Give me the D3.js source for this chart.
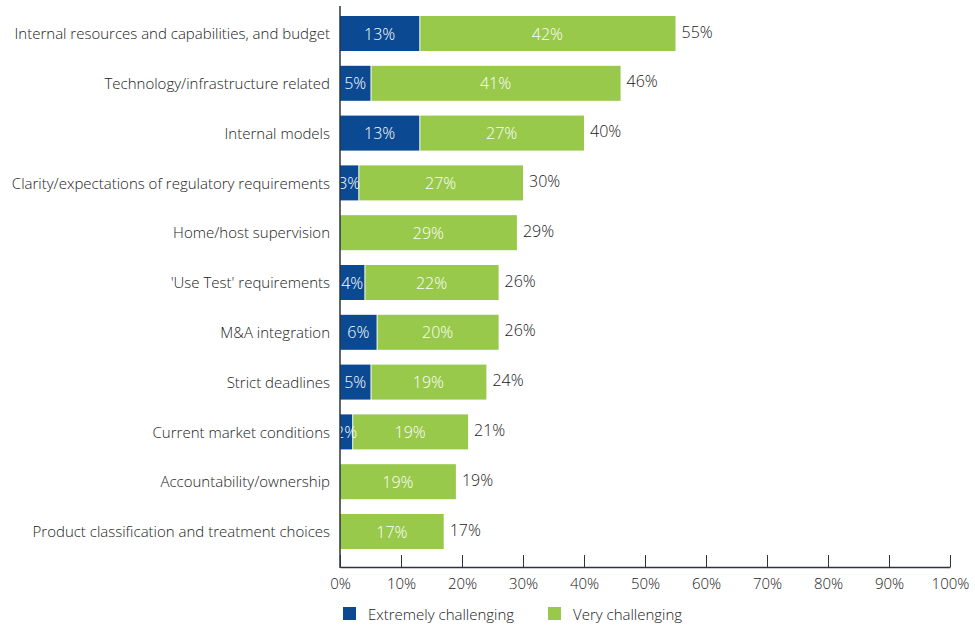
<!DOCTYPE html>
<html>
<head>
<meta charset="utf-8">
<script src="https://cdn.jsdelivr.net/npm/d3@7"></script>
<style>
  html, body { margin: 0; padding: 0; background: #fff; }
  svg { display: block; font-family: "Open Sans", "Noto Sans", sans-serif; font-weight: 300; }
</style>
</head>
<body>
<svg id="chart" width="975" height="625"></svg>
<script>
// Challenges, share of respondents
const categories = [
  "Internal resources and capabilities, and budget",
  "Technology/infrastructure related",
  "Internal models",
  "Clarity/expectations of regulatory requirements",
  "Home/host supervision",
  "'Use Test' requirements",
  "M&A integration",
  "Strict deadlines",
  "Current market conditions",
  "Accountability/ownership",
  "Product classification and treatment choices"
];
const extremely = [13, 5, 13, 3, 0, 4, 6, 5, 2, 0, 0];
const very      = [42, 41, 27, 27, 29, 22, 20, 19, 19, 19, 17];
const totals    = [55, 46, 40, 30, 29, 26, 26, 24, 21, 19, 17];
const seriesNames = ["Extremely challenging", "Very challenging"];
const xTicks = [0, 10, 20, 30, 40, 50, 60, 70, 80, 90, 100];

const colors = { extremely: "#0b4a92", very: "#98c94a" };

const svg = d3.select("#chart");
const left = 340, right = 950, axisY = 567;

const x = d3.scaleLinear().domain([0, 100]).range([left, right]);
const y = d3.scaleBand().domain(categories).range([8.6, 556.4])
  .paddingInner(0.297).paddingOuter(0.1485);

const rows = categories.map((c, i) => ({ c, e: extremely[i], v: very[i], t: totals[i] }));

// Bars
const g = svg.append("g");
g.selectAll("rect.ext").data(rows.filter(d => d.e > 0)).join("rect")
  .attr("x", x(0)).attr("y", d => y(d.c))
  .attr("width", d => x(d.e) - x(0)).attr("height", y.bandwidth())
  .attr("fill", colors.extremely);
g.selectAll("rect.very").data(rows).join("rect")
  .attr("x", d => x(d.e) + (d.e > 0 ? 1 : 0)).attr("y", d => y(d.c))
  .attr("width", d => x(d.e + d.v) - x(d.e) - (d.e > 0 ? 1 : 0)).attr("height", y.bandwidth())
  .attr("fill", colors.very);

// In-bar value labels
const fs = 15, fsNum = 16;
g.selectAll("text.ev").data(rows.filter(d => d.e > 0)).join("text")
  .attr("x", d => (x(0) + x(d.e)) / 2).attr("y", d => y(d.c) + y.bandwidth() / 2)
  .attr("dy", "0.38em").attr("text-anchor", "middle")
  .attr("fill", "#fff").attr("font-size", fsNum).text(d => d.e + "%");
g.selectAll("text.vv").data(rows).join("text")
  .attr("x", d => (x(d.e) + x(d.e + d.v)) / 2).attr("y", d => y(d.c) + y.bandwidth() / 2)
  .attr("dy", "0.38em").attr("text-anchor", "middle")
  .attr("fill", "#fff").attr("font-size", fsNum).text(d => d.v + "%");
// Totals
g.selectAll("text.tot").data(rows).join("text")
  .attr("x", d => x(d.t) + 6).attr("y", d => y(d.c) + y.bandwidth() / 2)
  .attr("dy", "0.26em").attr("fill", "#1a1a1a").attr("font-size", fsNum)
  .text(d => d.t + "%");

// Category labels
g.selectAll("text.cat").data(rows).join("text")
  .attr("x", left - 10).attr("y", d => y(d.c) + y.bandwidth() / 2)
  .attr("dy", "0.38em").attr("text-anchor", "end")
  .attr("fill", "#222").attr("font-size", fs).text(d => d.c);

// Axes
const axisColor = "#2b3440";
svg.append("line").attr("x1", left).attr("x2", left).attr("y1", 6).attr("y2", axisY + 1)
  .attr("stroke", axisColor).attr("stroke-width", 1.5);
const xAxis = svg.append("g").attr("transform", `translate(0,${axisY})`)
  .call(d3.axisBottom(x).tickValues(xTicks).tickSizeInner(-12).tickSizeOuter(0)
    .tickFormat(d => d + "%"));
xAxis.select(".domain").attr("stroke", axisColor).attr("stroke-width", 1.5);
xAxis.selectAll(".tick line").attr("stroke", axisColor);
xAxis.selectAll(".tick text").attr("y", 11).attr("dy", "0.71em")
  .attr("font-size", fs).attr("fill", "#222")
  .attr("font-family", "\"Open Sans\", sans-serif").attr("font-weight", 300);

// Legend
const legend = svg.append("g");
const legendItems = [
  { name: seriesNames[0], color: colors.extremely, x: 343 },
  { name: seriesNames[1], color: colors.very, x: 548 }
];
legendItems.forEach(it => {
  legend.append("rect").attr("x", it.x).attr("y", 607).attr("width", 13).attr("height", 13)
    .attr("fill", it.color);
  legend.append("text").attr("x", it.x + 25).attr("y", 615).attr("dy", "0.35em")
    .attr("font-size", fs).attr("fill", "#222").text(it.name);
});
</script>
</body>
</html>
